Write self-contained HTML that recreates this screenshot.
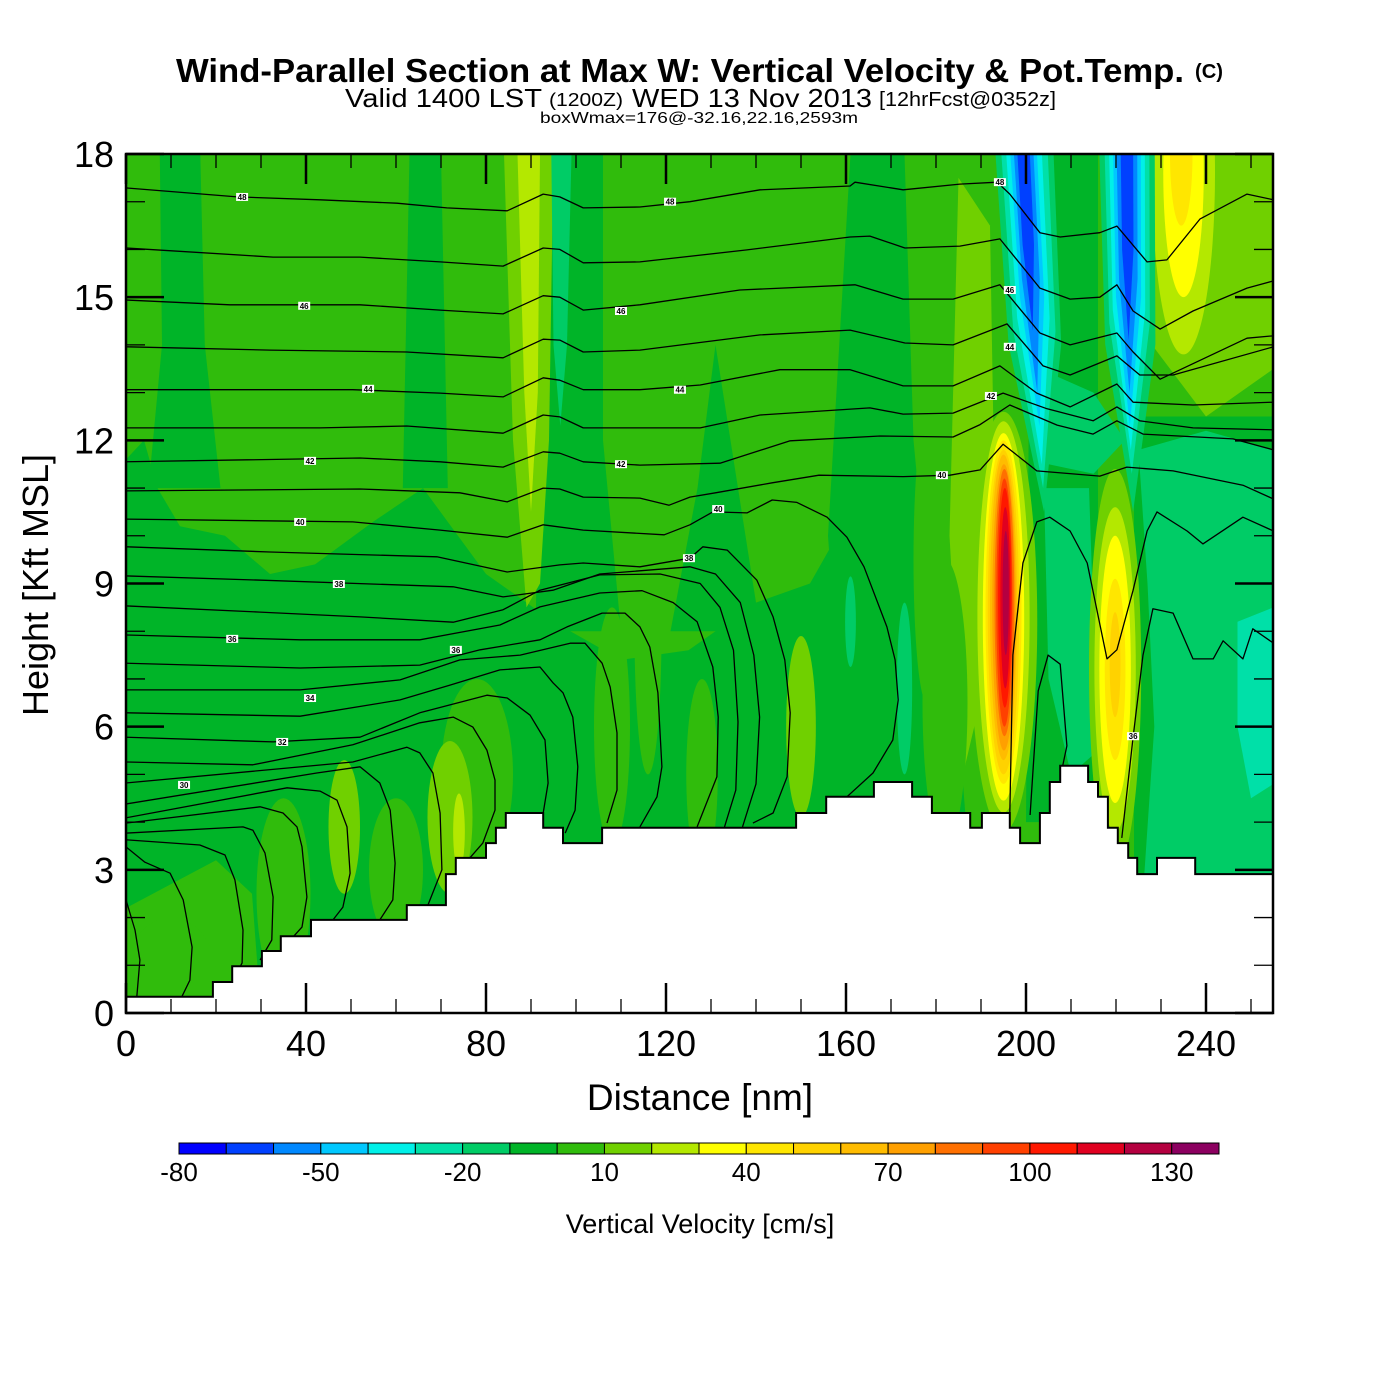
<!DOCTYPE html>
<html><head><meta charset="utf-8"><title>Wind-Parallel Section</title>
<style>
html,body{margin:0;padding:0;background:#fff;}
svg{display:block;}
text{font-family:"Liberation Sans",sans-serif;}
</style></head>
<body>
<svg id="chart" xmlns="http://www.w3.org/2000/svg" width="1400" height="1400" viewBox="0 0 1400 1400">
  <rect x="0" y="0" width="1400" height="1400" fill="#fff"/>
  <g>
    <text x="176" y="82" font-size="33" font-weight="bold" textLength="1008" lengthAdjust="spacingAndGlyphs">Wind-Parallel Section at Max W: Vertical Velocity &amp; Pot.Temp.</text>
    <text x="1195" y="78" font-size="20" font-weight="bold" textLength="28" lengthAdjust="spacingAndGlyphs">(C)</text>
    <text x="345" y="107" font-size="26" textLength="197" lengthAdjust="spacingAndGlyphs">Valid 1400 LST</text>
    <text x="549" y="106" font-size="18" textLength="74" lengthAdjust="spacingAndGlyphs">(1200Z)</text>
    <text x="632" y="107" font-size="26" textLength="240" lengthAdjust="spacingAndGlyphs">WED 13 Nov 2013</text>
    <text x="879" y="106" font-size="20" textLength="177" lengthAdjust="spacingAndGlyphs">[12hrFcst@0352z]</text>
    <text x="540" y="123" font-size="16" textLength="318" lengthAdjust="spacingAndGlyphs">boxWmax=176@-32.16,22.16,2593m</text>
  </g>
  <defs><clipPath id="plotclip"><rect x="126" y="154" width="1147" height="859"/></clipPath></defs>
  <g id="field" clip-path="url(#plotclip)"></g>
  <g id="contours" clip-path="url(#plotclip)"></g>
  <g id="terrain" clip-path="url(#plotclip)"></g>
  <g id="labels"></g>
  <g id="axes"></g>
  <g id="colorbar"></g>
  <text x="700" y="1110" font-size="37" text-anchor="middle">Distance [nm]</text>
  <text x="0" y="0" font-size="36" text-anchor="middle" transform="translate(48,585) rotate(-90)">Height [Kft MSL]</text>
  <text x="700" y="1233" font-size="27" text-anchor="middle">Vertical Velocity [cm/s]</text>
</svg>
<script>
// ---------- data ----------
const levelColors = ["#0000ff","#0040ff","#0088ff","#00c8ff","#00f0e8","#00e0a8","#00cc66","#00b428","#30bc0c","#70d000","#b4e800","#ffff00","#ffe600","#ffd200","#ffbc00","#ffa000","#ff7000","#ff4000","#ff1800","#e00020","#b40040","#8c0060"];
const colorbarTicks = [-80,-50,-20,10,40,70,100,130];
const xTicks = [0,40,80,120,160,200,240];
const yTicks = [0,3,6,9,12,15,18];

const terrainX = [0,19.3,23.6,30.2,34.4,41.1,62.4,71.1,73.3,80,82.2,84.4,92.7,97.1,105.8,148.9,155.6,166.2,174.7,179.1,187.6,190.2,196.4,198.7,203.1,205.3,207.6,213.8,216,218.2,220.4,222.7,224.7,229.1,237.6];
const terrainH = [0.34,0.65,0.98,1.3,1.61,1.95,2.26,2.91,3.25,3.56,3.88,4.19,3.88,3.56,3.88,4.19,4.53,4.84,4.53,4.19,3.88,4.19,3.88,3.56,4.19,4.84,5.18,4.84,4.53,3.88,3.56,3.25,2.91,3.25,2.91];

const fieldPolys = [
 [8,[[0,0],[0,11.6],[4,12],[7,11],[12,10.2],[22,10],[32,9.2],[42,9.4],[55,10.3],[66,11],[80,9.2],[95,8.2],[110,7.4],[125,7.6],[140,8.6],[152,9],[158,10],[162,9],[175,8],[185,6],[190,0]]],
 [8,[[7.5,18],[16.5,18],[17.5,14],[21,11],[5,11],[8,14]]],
 [8,[[63,18],[70,18],[71.5,11],[61.5,11]]],
 [8,[[93,18],[106,18],[106,12],[110,8],[91,8]]],
 [8,[[161,18],[173,18],[175,12],[181,6],[159,6],[156,10]]],
 [8,[[131,14],[136,11],[141,8],[121,8],[127,11]]],
 [8,[[201,18],[216,18],[216,4],[200,4]]],
 [8,[[224,12.5],[255,12.5],[255,2],[224,2]]],
 [9,[[0,0],[30,0],[28,2.5],[20,3.2],[8,2.6],[0,2.2]]],
 [10,[[84,18],[95,18],[94,12],[92,9],[89,8.5],[86,12]]],
 [11,[[87,18],[92,18],[91.5,13],[90,10.5],[88.5,13]]],
 [7,[[94.5,18],[99,18],[98,14],[96.5,12.3],[95,14]]],
 [10,[[185,17.5],[192,16.5],[193.5,8],[186,5],[183,10]]],
 [10,[[226,18],[255,18],[255,13.5],[240,12.5],[228,14]]],
 [7,[[225,11.8],[240,12.2],[255,11.8],[255,2.5],[226,2.5],[228.5,6],[227,9]]],
 [6,[[247,8.2],[255,8.5],[255,4.8],[250,4.5],[247,6]]],
 [7,[[203,13.5],[215,13],[222,12],[215,11.3],[205,11.5]]],
 [7,[[204,11],[214,11],[216,5.5],[210,5],[205,7]]]
];
const fieldEllipses = [
 [78,5,8,2,9],[108,6,4,2.5,9],[128,5,3.5,2,9],[60,3,6,1.5,9],[35,2.5,6,2,9],[10,0.8,10,1.2,9],[182,6.5,5,3,9],[178,9.5,3,3,9],[116,8,3,3,9],
 [48.5,3.9,3.5,1.4,10],[72,4.1,5,1.6,10],[74,3.8,1.3,0.8,11],[150,6,3.3,1.9,10],
 [161,8.2,1.2,0.95,7],[173,6.8,1.7,1.8,7],
 [235,17.6,7,3.8,11],[235,17.6,4.5,2.6,12],[234.5,18,2.5,1.5,13],
 [219.8,7.2,5.8,4.2,10],[219.8,7.2,4.6,3.4,11],[219.8,7.2,3.5,2.8,12],[219.8,7.2,2.3,1.9,13],[219.8,7.3,1.2,1.1,14],
 [195,8.2,7.5,4.4,10],[195,8.3,5.8,4.1,11],[195,8.3,4.6,3.85,12],[195,8.4,4,3.6,13],[195,8.4,3.5,3.4,14],[195,8.5,3,3.2,15],[195.1,8.5,2.6,3.0,16],[195.2,8.6,2.2,2.8,17],[195.2,8.6,1.8,2.6,18],[195.3,8.7,1.5,2.3,19],[195.4,8.7,1.1,1.9,20],[195.5,8.8,0.7,1.3,21]
];
const fieldColumns = [
 [199.5,204,10.5,6.5,7],[199.5,203.8,11,5.2,6],[199.4,203.5,11.5,4,5],[199.3,203,12.3,3,4],[199.3,202.5,13,2.2,3],[199.3,201.5,14.3,1.4,2],
 [222.4,223.8,10.5,6.2,7],[222.4,223.5,11.3,5,6],[222.4,223.3,11.8,4,5],[222.4,223.1,12.3,3.1,4],[222.4,223,13,2.3,3],[222.4,222.8,14.1,1.4,2]
];

const theta48 = [[0,17.29],[24.7,17.1],[43.1,17.04],[60.2,16.97],[71.3,16.87],[84.7,16.81],[92.7,17.16],[96.4,17.1],[101.6,16.87],[114.2,16.89],[125.3,17],[140.9,17.25],[160.9,17.33],[162,17.41],[172.7,17.25],[185.3,17.37],[193.6,17.41],[196.4,17.16],[203.1,16.35],[207.6,16.26],[216.4,16.35],[220.2,16.49],[226.9,15.74],[231.3,15.78],[238.7,16.64],[249.1,17.16],[255,17.04]];
const theta47 = [[0,16.03],[32.7,15.84],[52,15.84],[69.8,15.74],[83.8,15.65],[92.7,16.03],[96.4,16],[101.6,15.72],[114.2,15.74],[138,15.99],[160.9,16.26],[165.3,16.28],[173.1,16.03],[185.3,16.07],[194.2,16.22],[203.1,15.19],[209.8,14.96],[216.4,15],[220.2,15.26],[223.8,14.71],[229.8,14.33],[237.1,14.71],[249.1,15.19],[255,15.34]];
const theta46 = [[0,14.94],[23.1,14.84],[52,14.84],[69.8,14.73],[83.8,14.65],[92.7,15.03],[96.4,15],[101.6,14.73],[114.2,14.84],[136.4,15.15],[162,15.26],[172.7,14.96],[183.8,14.96],[194.2,15.26],[203.1,14.25],[209.8,14],[220.2,14.25],[223.8,13.85],[229.8,13.28],[249.1,14.14],[255,14.19]];
const theta45 = [[0,13.96],[32,13.89],[62.4,13.85],[83.8,13.73],[92.7,14.12],[96.4,14.1],[101.6,13.85],[114.2,13.89],[140.9,14.21],[160.9,14.31],[173.1,14.04],[183.8,14],[195.8,14.44],[203.8,13.56],[209.8,13.37],[220.2,13.77],[225.3,13.37],[232.7,13.37],[255,13.96]];
const theta44 = [[0,13.06],[50.4,13.06],[69.8,12.99],[83.8,12.91],[92.7,13.31],[96.4,13.26],[101.6,13.06],[114.2,13.06],[127.6,13.16],[145.3,13.48],[160.9,13.48],[172.7,13.14],[183.8,13.14],[194.2,13.56],[202.4,12.99],[209.8,12.7],[220.2,13.18],[223.8,12.8],[237.1,12.74],[255,12.8]];
const theta43 = [[0,12.26],[43.1,12.26],[62.4,12.3],[83.8,12.15],[92.7,12.53],[96.4,12.49],[101.6,12.26],[127.6,12.26],[140.9,12.53],[165.3,12.68],[172.7,12.55],[183.8,12.57],[194.9,12.99],[204.7,12.66],[214.9,12.41],[220.2,12.7],[225.3,12.41],[237.1,12.26],[255,12.22]];
const theta42 = [[0,11.55],[52,11.63],[69.8,11.55],[83.8,11.44],[92.7,11.76],[96.4,11.73],[101.6,11.55],[114.2,11.48],[132,11.52],[147.6,11.99],[167.6,12.09],[183.8,12.07],[189.8,12.33],[196.4,12.74],[206.9,12.32],[214.9,12.13],[220.2,12.41],[226,12.13],[246,12.03],[255,11.8]];
const theta41 = [[0,10.94],[52,10.98],[74.2,10.9],[84.7,10.71],[92.7,11],[96.4,10.98],[101.6,10.81],[114.2,10.79],[120.7,10.64],[125.3,10.81],[131,10.9],[143.6,11.11],[154,11.27],[172.7,11.24],[183.1,11.27],[189.8,11.38],[194.9,11.92],[202.4,11.36],[216.4,11.25],[222.4,11.44],[232.7,11.36],[248.2,11.06],[255,10.77]];
const theta40 = [[0,10.35],[50.4,10.29],[69.8,10.12],[84.7,9.97],[92.7,10.23],[101.6,10.12],[119.6,10.02],[125.3,10.23],[130.4,10.5],[138,10.48],[143.6,10.75],[149.1,10.7],[155.8,10.39],[160.2,9.97],[164,9.35],[169.1,8.09],[170.9,7.4],[171.6,6.56],[170.4,5.72],[166,5.03],[160.2,4.53]];
const theta39 = [[0,9.77],[32,9.66],[69.1,9.56],[84.7,9.24],[96.4,9.39],[101.6,9.43],[114.2,9.35],[125.3,9.53],[128.2,9.77],[133.6,9.7],[140.2,9.07],[143.8,8.3],[146.4,7.4],[147.6,6.29],[146.9,4.95],[143.8,4.19],[139.3,3.98]];
const theta38 = [[0,9.16],[30.2,9.07],[72.7,8.93],[83.8,8.72],[94.9,8.86],[105.3,9.2],[118.7,9.3],[125.3,9.35],[131,9.2],[136.5,8.6],[139.5,7.5],[140.8,6.2],[140,4.8],[137,3.9]];
const theta37 = [[0,8.53],[29.8,8.4],[52,8.3],[72.7,8.19],[83.8,8.45],[92,8.86],[105.3,9.18],[118.7,9.2],[127.6,9.0],[132,8.5],[135,7.6],[136,6.1],[135.5,4.67],[133,3.9]];
const theta36 = [[0,7.92],[38.7,7.82],[65.3,7.82],[83.1,8.13],[92,8.51],[105.3,8.8],[114.7,8.85],[121.6,8.6],[126.9,8.2],[130.4,7.25],[131.6,6.2],[131.3,4.95],[126.9,3.9]];
const theta35 = [[0,7.33],[38.7,7.23],[65.3,7.29],[78.7,7.61],[92,7.82],[98,8.09],[105.8,8.38],[110.9,8.38],[114.2,8.09],[116.4,7.67],[118.2,6.71],[119.1,5.16],[118,4.53],[114.2,3.9]];
const theta34 = [[0,6.77],[38.7,6.77],[60.9,6.98],[74.2,7.4],[87.6,7.5],[98.7,7.75],[102,7.75],[105.8,7.33],[107.6,6.83],[109.1,5.87],[109.1,4.67],[106.9,3.98]];
const theta33 = [[0,6.29],[38.7,6.22],[60.9,6.56],[72,6.87],[83.1,7.19],[92,7.25],[94.9,6.92],[97.1,6.71],[99.3,6.2],[100.4,5.16],[99.8,4.25],[97.6,3.77]];
const theta32 = [[0,5.78],[32.7,5.68],[52,5.78],[65.3,6.29],[80.2,6.66],[84.7,6.6],[89.8,6.24],[93.1,5.72],[93.8,4.82],[92.7,4.19]];
const theta31 = [[0,5.26],[28.2,5.2],[50.4,5.62],[65.3,6.08],[72.7,6.2],[77.1,5.99],[80.2,5.51],[82,4.88],[82,4.25],[79.3,3.56],[76.4,3.25]];
const theta30 = [[0,4.82],[50.4,5.26],[62.4,5.57],[65.3,5.45],[68.2,5.03],[69.8,4.19],[70.2,3],[67.1,2.26]];
const theta29 = [[0,4.38],[42.4,5.03],[52,5.16],[56.4,4.82],[58.7,4.25],[59.8,3.14],[59.3,2.37],[56.4,1.95]];
const theta28 = [[0,4.09],[35.8,4.72],[43.1,4.65],[46.9,4.46],[49.1,3.9],[49.8,2.93],[48.2,2.22],[46,1.95]];
const theta27 = [[0,3.98],[29.8,4.32],[34.9,4.19],[38,3.9],[39.1,3.48],[40.2,2.43],[39.1,1.8],[37.1,1.59]];
const theta26 = [[0,3.77],[26,3.9],[28.2,3.83],[30.9,3.35],[32.7,2.43],[32.4,1.53],[29.8,1.11]];
const theta25 = [[0,3.63],[16.4,3.52],[22,3.31],[24.2,2.79],[26,1.74],[25.8,1.05],[23.8,0.69]];
const theta24 = [[0,3.48],[4.2,3.16],[9.8,2.93],[12.7,2.37],[14.7,1.38],[14.2,0.69],[12.4,0.34]];
const theta23 = [[0,2.37],[2,1.74],[3.1,1.11],[2.4,0.34]];
const thetaEast38 = [[196.4,4.15],[197.1,7.5],[199.3,9.43],[202.4,10.29],[205.3,10.39],[209.8,10.1],[213.6,9.43],[218,7.42],[220.2,7.61],[223.8,8.86],[226.9,10.1],[229.1,10.5],[235.8,10.1],[239.3,9.83],[248.2,10.39],[255,10.1]];
const thetaEastBump = [[200.9,4.15],[202.7,6.75],[204.9,7.5],[207.6,7.31],[209.1,5.6],[208,5.11]];
const thetaEast36 = [[221.3,3.67],[223.8,5.78],[226,7.5],[228.2,8.47],[232.7,8.38],[237.1,7.42],[241.6,7.42],[243.8,7.8],[248.2,7.42],[250.4,8.05],[255,7.75]];
const contourLines = [theta48,theta47,theta46,theta45,theta44,theta43,theta42,theta41,theta40,theta39,theta38,theta37,theta36,theta35,theta34,theta33,theta32,theta31,theta30,theta29,theta28,theta27,theta26,theta25,theta24,theta23,thetaEast38,thetaEastBump,thetaEast36];

const contourLabels = [[25.8,17.1,"48"],[120.9,17.0,"48"],[39.6,14.82,"46"],[110,14.71,"46"],[53.8,13.08,"44"],[123.1,13.06,"44"],[40.9,11.57,"42"],[110,11.5,"42"],[38.7,10.29,"40"],[131.6,10.56,"40"],[181.3,11.27,"40"],[47.3,8.99,"38"],[125.1,9.53,"38"],[23.6,7.84,"36"],[73.3,7.61,"36"],[40.9,6.6,"34"],[34.7,5.68,"32"],[12.9,4.78,"30"],[223.8,5.8,"36"],[194.2,17.41,"48"],[196.4,15.15,"46"],[196.4,13.96,"44"],[192.2,12.93,"42"]];

// ---------- axis functions ----------
const PX0=126, PX1=1273, PY0=1013, PY1=154, XMAX=(1273-126)/4.5, YMAX=18;
function X(nm){return PX0 + nm*(PX1-PX0)/XMAX;}
function Y(k){return PY0 - k*(PY0-PY1)/YMAX;}
const NS="http://www.w3.org/2000/svg";
function mk(tag,attrs,parent){const e=document.createElementNS(NS,tag);for(const k in attrs)e.setAttribute(k,attrs[k]);parent.appendChild(e);return e;}
function pts(arr){return arr.map(p=>X(p[0]).toFixed(1)+","+Y(p[1]).toFixed(1)).join(" ");}

const field=document.getElementById("field");
let bg=mk("rect",{x:PX0,y:PY1,width:PX1-PX0,height:PY0-PY1,fill:levelColors[8]},field);


fieldPolys.forEach(function(p){
  const e=mk("polygon",{points:pts(p[1]),fill:levelColors[p[0]-1]},field);
  
  
});
fieldEllipses.forEach(function(p){
  const e=mk("ellipse",{cx:X(p[0]),cy:Y(p[1]),rx:p[2]*4.5,ry:p[3]*47.72,fill:levelColors[p[4]-1]},field);
  
  
});
fieldColumns.forEach(function(c){
  const top=18.3, kb=c[2], hw=c[3];
  const kMid=top-(top-kb)*0.55, xMid=c[0]+(c[1]-c[0])*0.55;
  const poly=[[c[0]-hw,top],[c[0]+hw,top],[xMid+hw*0.9,kMid],[c[1],kb],[xMid-hw*0.9,kMid]];
  const e=mk("polygon",{points:pts(poly),fill:levelColors[c[4]-1]},field);
  
  
});

const cg=document.getElementById("contours");
contourLines.forEach(function(line){
  const e=mk("polyline",{points:pts(line),fill:"none",stroke:"#000","stroke-width":1.3,"stroke-linejoin":"round"},cg);
  
  
});

const tg=document.getElementById("terrain");
let tp=[];
for(let i=0;i<terrainX.length;i++){
  const x0=terrainX[i], x1=(i+1<terrainX.length)?terrainX[i+1]:XMAX;
  tp.push([x0,terrainH[i]]); tp.push([x1,terrainH[i]]);
}
const tpoly=[[0,-1]].concat(tp).concat([[XMAX,-1]]);
const te=mk("polygon",{points:pts(tpoly),fill:"#fff",stroke:"#000","stroke-width":2},tg);



const lg=document.getElementById("labels");
contourLabels.forEach(function(l){
  const gx=X(l[0]), gy=Y(l[1]);
  const r=mk("rect",{x:gx-6,y:gy-4,width:12,height:8,fill:"#fff"},lg);
  
  
  const t=mk("text",{x:gx,y:gy+3,"font-size":8,"font-weight":"bold","text-anchor":"middle"},lg);
  t.textContent=l[2];
  
  
});

const ag=document.getElementById("axes");
const frame=mk("rect",{x:PX0,y:PY1,width:PX1-PX0,height:PY0-PY1,fill:"none",stroke:"#000","stroke-width":2.5},ag);


for(let v=0;v<=250;v+=10){
  const major=(v%40===0), len=major?30:14, x=X(v);
  let a=mk("line",{x1:x,y1:PY0,x2:x,y2:PY0-len,stroke:"#000","stroke-width":major?2.5:1.3},ag);
  
  
  let b=mk("line",{x1:x,y1:PY1,x2:x,y2:PY1+len,stroke:"#000","stroke-width":major?2.5:1.3},ag);
  
  
}
for(let v=0;v<=18;v+=1){
  const major=(v%3===0), len=major?38:19, y=Y(v);
  let a=mk("line",{x1:PX0,y1:y,x2:PX0+len,y2:y,stroke:"#000","stroke-width":major?2.5:1.3},ag);
  
  
  let b=mk("line",{x1:PX1,y1:y,x2:PX1-len,y2:y,stroke:"#000","stroke-width":major?2.5:1.3},ag);
  
  
}
xTicks.forEach(function(v){
  const t=mk("text",{x:X(v),y:1056,"font-size":36,"text-anchor":"middle"},ag);
  t.textContent=String(v);
  
  
});
yTicks.forEach(function(v){
  const t=mk("text",{x:114,y:Y(v)+13,"font-size":36,"text-anchor":"end"},ag);
  t.textContent=String(v);
  
  
});

const cb=document.getElementById("colorbar");
const CB0=179, CBW=(1219-179)/levelColors.length, cbLow=-80, cbStep=10;
levelColors.forEach(function(c,i){
  const r=mk("rect",{x:CB0+i*CBW,y:1143,width:CBW,height:11,fill:c,stroke:"#000","stroke-width":1},cb);
  
  
});
colorbarTicks.forEach(function(v){
  const t=mk("text",{x:CB0+(v-cbLow)/cbStep*CBW,y:1181,"font-size":26,"text-anchor":"middle"},cb);
  t.textContent=String(v);
  
  
});
</script>
</body></html>
